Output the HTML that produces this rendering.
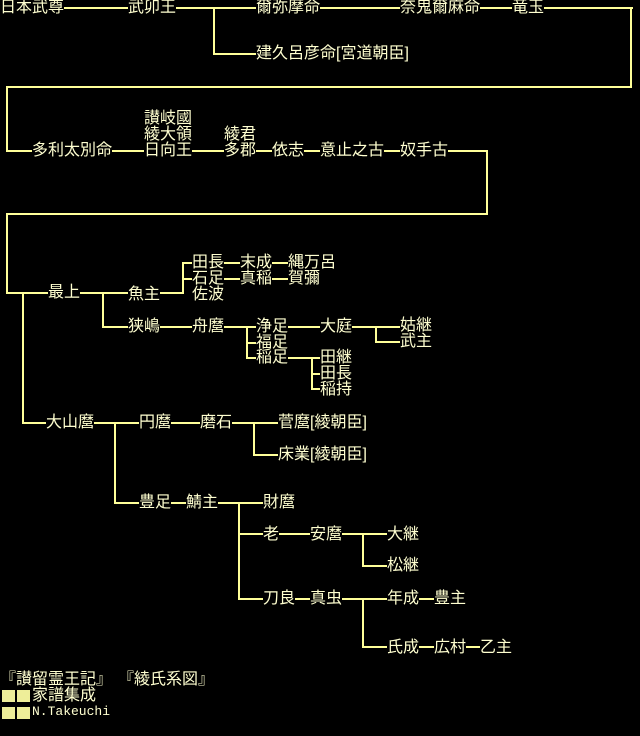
<!DOCTYPE html>
<html><head><meta charset="utf-8"><style>
html,body{margin:0;padding:0;background:#000;}
body{width:640px;height:736px;position:relative;overflow:hidden;}
.t{position:absolute;font-family:"Liberation Sans","Noto Sans CJK JP",sans-serif;font-size:16px;line-height:16px;color:#ffffd0;white-space:nowrap;}
.h,.v{position:absolute;background:#ffff99;}
.h{height:2px;}.v{width:2px;}
.sq{position:absolute;width:13px;height:12px;background:#eeee99;}
.m{position:absolute;font-family:"Liberation Mono",monospace;font-size:13px;line-height:16px;color:#ffffd0;}
</style></head><body>
<!-- row 1 -->
<div class="t" style="left:0;top:0">日本武尊</div>
<div class="t" style="left:128px;top:0">武卯王</div>
<div class="t" style="left:256px;top:0">爾弥摩命</div>
<div class="t" style="left:400px;top:0">奈鬼爾麻命</div>
<div class="t" style="left:512px;top:0">竜玉</div>
<div class="t" style="left:256px;top:46px">建久呂彦命[宮道朝臣]</div>
<div class="h" style="left:64px;top:7px;width:64px"></div>
<div class="h" style="left:176px;top:7px;width:80px"></div>
<div class="h" style="left:320px;top:7px;width:80px"></div>
<div class="h" style="left:480px;top:7px;width:32px"></div>
<div class="h" style="left:544px;top:7px;width:89px"></div>
<div class="v" style="left:630px;top:7px;height:81px"></div>
<div class="h" style="left:7px;top:86px;width:625px"></div>
<div class="v" style="left:6px;top:86px;height:66px"></div>
<div class="h" style="left:6px;top:150px;width:26px"></div>
<div class="v" style="left:213px;top:7px;height:48px"></div>
<div class="h" style="left:213px;top:53px;width:43px"></div>
<!-- row 2 -->
<div class="t" style="left:32px;top:143px">多利太別命</div>
<div class="t" style="left:144px;top:111px">讃岐國</div>
<div class="t" style="left:144px;top:127px">綾大領</div>
<div class="t" style="left:144px;top:143px">日向王</div>
<div class="t" style="left:224px;top:127px">綾君</div>
<div class="t" style="left:224px;top:143px">多郡</div>
<div class="t" style="left:272px;top:143px">依志</div>
<div class="t" style="left:320px;top:143px">意止之古</div>
<div class="t" style="left:400px;top:143px">奴手古</div>
<div class="h" style="left:112px;top:150px;width:32px"></div>
<div class="h" style="left:192px;top:150px;width:32px"></div>
<div class="h" style="left:256px;top:150px;width:16px"></div>
<div class="h" style="left:304px;top:150px;width:16px"></div>
<div class="h" style="left:384px;top:150px;width:16px"></div>
<div class="h" style="left:448px;top:150px;width:40px"></div>
<div class="v" style="left:486px;top:150px;height:65px"></div>
<div class="h" style="left:6px;top:213px;width:482px"></div>
<div class="v" style="left:6px;top:213px;height:81px"></div>
<div class="h" style="left:6px;top:292px;width:42px"></div>
<!-- 最上 -->
<div class="t" style="left:48px;top:285px">最上</div>
<div class="v" style="left:22px;top:292px;height:132px"></div>
<div class="h" style="left:22px;top:422px;width:24px"></div>
<div class="h" style="left:80px;top:292px;width:48px"></div>
<div class="t" style="left:128px;top:287px">魚主</div>
<div class="v" style="left:102px;top:292px;height:36px"></div>
<div class="h" style="left:102px;top:326px;width:26px"></div>
<div class="t" style="left:128px;top:319px">狭嶋</div>
<div class="h" style="left:160px;top:292px;width:24px"></div>
<div class="v" style="left:182px;top:262px;height:32px"></div>
<div class="h" style="left:182px;top:262px;width:10px"></div>
<div class="h" style="left:182px;top:278px;width:10px"></div>
<div class="t" style="left:192px;top:255px">田長</div>
<div class="t" style="left:192px;top:271px">石足</div>
<div class="t" style="left:192px;top:287px">佐波</div>
<div class="h" style="left:224px;top:262px;width:16px"></div>
<div class="h" style="left:224px;top:278px;width:16px"></div>
<div class="t" style="left:240px;top:255px">末成</div>
<div class="t" style="left:240px;top:271px">真稲</div>
<div class="h" style="left:272px;top:262px;width:16px"></div>
<div class="h" style="left:272px;top:278px;width:16px"></div>
<div class="t" style="left:288px;top:255px">縄万呂</div>
<div class="t" style="left:288px;top:271px">賀彌</div>
<!-- 狭嶋 line -->
<div class="h" style="left:160px;top:326px;width:32px"></div>
<div class="t" style="left:192px;top:319px">舟麿</div>
<div class="h" style="left:224px;top:326px;width:32px"></div>
<div class="v" style="left:246px;top:326px;height:33px"></div>
<div class="h" style="left:246px;top:342px;width:10px"></div>
<div class="h" style="left:246px;top:357px;width:10px"></div>
<div class="t" style="left:256px;top:319px">浄足</div>
<div class="t" style="left:256px;top:335px">福足</div>
<div class="t" style="left:256px;top:350px">稲足</div>
<div class="h" style="left:288px;top:326px;width:32px"></div>
<div class="t" style="left:320px;top:319px">大庭</div>
<div class="h" style="left:352px;top:326px;width:48px"></div>
<div class="v" style="left:375px;top:326px;height:17px"></div>
<div class="h" style="left:375px;top:341px;width:25px"></div>
<div class="t" style="left:400px;top:318px">姑継</div>
<div class="t" style="left:400px;top:334px">武主</div>
<div class="h" style="left:288px;top:357px;width:32px"></div>
<div class="v" style="left:311px;top:357px;height:33px"></div>
<div class="h" style="left:311px;top:373px;width:9px"></div>
<div class="h" style="left:311px;top:388px;width:9px"></div>
<div class="t" style="left:320px;top:350px">田継</div>
<div class="t" style="left:320px;top:366px">田長</div>
<div class="t" style="left:320px;top:382px">稲持</div>
<!-- 大山麿 -->
<div class="t" style="left:46px;top:415px">大山麿</div>
<div class="h" style="left:94px;top:422px;width:45px"></div>
<div class="t" style="left:139px;top:415px">円麿</div>
<div class="h" style="left:171px;top:422px;width:29px"></div>
<div class="t" style="left:200px;top:415px">磨石</div>
<div class="h" style="left:232px;top:422px;width:46px"></div>
<div class="v" style="left:253px;top:422px;height:34px"></div>
<div class="h" style="left:253px;top:454px;width:25px"></div>
<div class="t" style="left:278px;top:415px">菅麿[綾朝臣]</div>
<div class="t" style="left:278px;top:447px">床業[綾朝臣]</div>
<div class="v" style="left:114px;top:422px;height:82px"></div>
<div class="h" style="left:114px;top:502px;width:25px"></div>
<div class="t" style="left:139px;top:495px">豊足</div>
<div class="h" style="left:171px;top:502px;width:15px"></div>
<div class="t" style="left:186px;top:495px">鯖主</div>
<div class="h" style="left:218px;top:502px;width:45px"></div>
<div class="t" style="left:263px;top:495px">財麿</div>
<div class="v" style="left:238px;top:502px;height:98px"></div>
<div class="h" style="left:238px;top:533px;width:25px"></div>
<div class="h" style="left:238px;top:598px;width:25px"></div>
<div class="t" style="left:263px;top:527px">老</div>
<div class="h" style="left:279px;top:533px;width:31px"></div>
<div class="t" style="left:310px;top:527px">安麿</div>
<div class="h" style="left:342px;top:533px;width:45px"></div>
<div class="v" style="left:362px;top:533px;height:34px"></div>
<div class="h" style="left:362px;top:565px;width:25px"></div>
<div class="t" style="left:387px;top:527px">大継</div>
<div class="t" style="left:387px;top:558px">松継</div>
<div class="t" style="left:263px;top:591px">刀良</div>
<div class="h" style="left:295px;top:598px;width:15px"></div>
<div class="t" style="left:310px;top:591px">真虫</div>
<div class="h" style="left:342px;top:598px;width:45px"></div>
<div class="v" style="left:362px;top:598px;height:50px"></div>
<div class="h" style="left:362px;top:646px;width:25px"></div>
<div class="t" style="left:387px;top:591px">年成</div>
<div class="h" style="left:419px;top:598px;width:15px"></div>
<div class="t" style="left:434px;top:591px">豊主</div>
<div class="t" style="left:387px;top:640px">氏成</div>
<div class="h" style="left:419px;top:646px;width:15px"></div>
<div class="t" style="left:434px;top:640px">広村</div>
<div class="h" style="left:466px;top:646px;width:14px"></div>
<div class="t" style="left:480px;top:640px">乙主</div>
<!-- footer -->
<div class="t" style="left:0;top:672px">『讃留霊王記』</div>
<div class="t" style="left:118px;top:672px">『綾氏系図』</div>
<div class="sq" style="left:2px;top:690px"></div>
<div class="sq" style="left:17px;top:690px"></div>
<div class="sq" style="left:2px;top:707px"></div>
<div class="sq" style="left:17px;top:707px"></div>
<div class="t" style="left:32px;top:688px">家譜集成</div>
<div class="m" style="left:32px;top:704px">N.Takeuchi</div>
</body></html>
